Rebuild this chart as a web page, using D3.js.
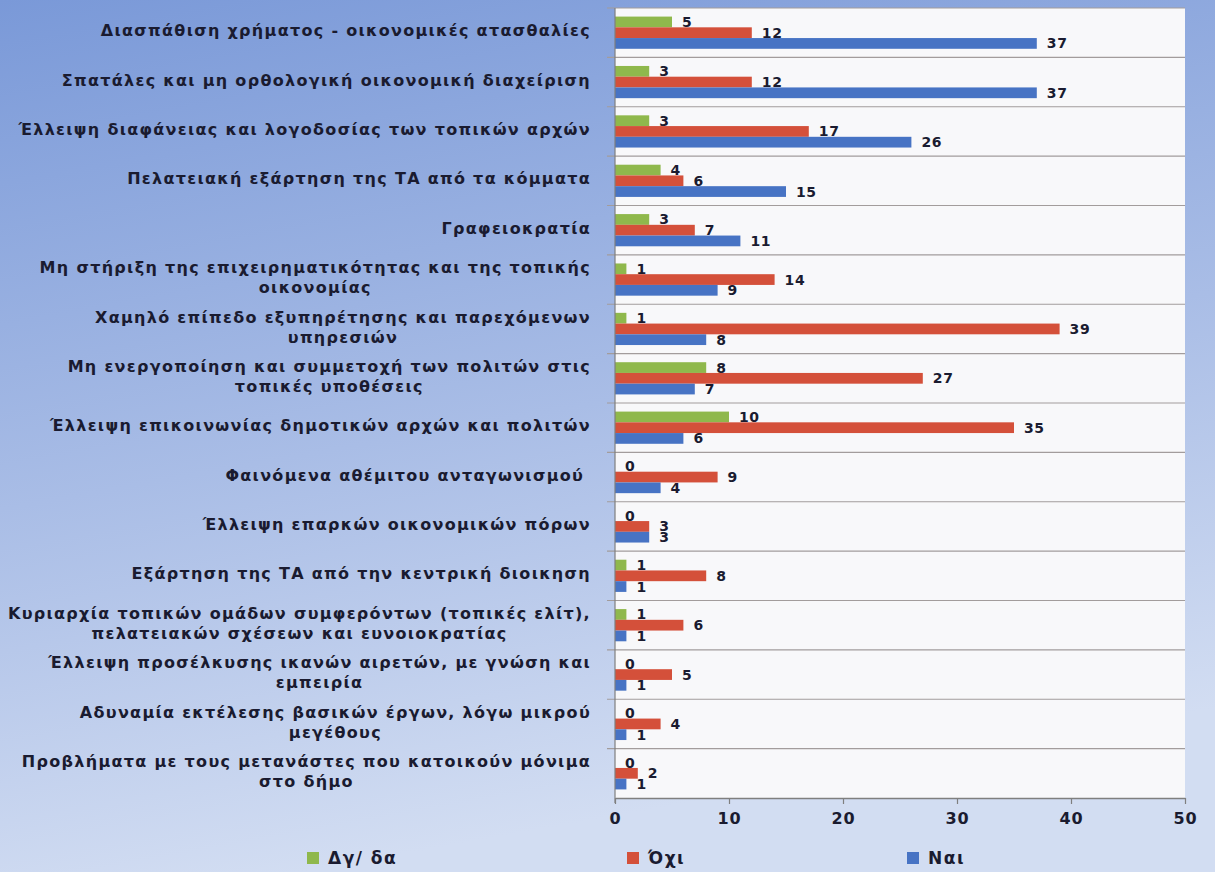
<!DOCTYPE html>
<html>
<head>
<meta charset="utf-8">
<script src="https://cdn.jsdelivr.net/npm/d3@7"></script>
<style>
  body { margin: 0; padding: 0; overflow: hidden; }
  svg { display: block; }
  text { font-family: "DejaVu Sans", Verdana, sans-serif; fill: #1a1b30; }
</style>
</head>
<body>
<svg width="1215" height="872"></svg>
<script>
// categories top to bottom, "|" marks a line break
var categories = [
    'Διασπάθιση χρήματος - οικονομικές ατασθαλίες',
    'Σπατάλες και μη ορθολογική οικονομική διαχείριση',
    'Έλλειψη διαφάνειας και λογοδοσίας των τοπικών αρχών',
    'Πελατειακή εξάρτηση της ΤΑ από τα κόμματα',
    'Γραφειοκρατία',
    'Μη στήριξη της επιχειρηματικότητας και της τοπικής|οικονομίας',
    'Χαμηλό επίπεδο εξυπηρέτησης και παρεχόμενων|υπηρεσιών',
    'Μη ενεργοποίηση και συμμετοχή των πολιτών στις|τοπικές υποθέσεις',
    'Έλλειψη επικοινωνίας δημοτικών αρχών και πολιτών',
    'Φαινόμενα αθέμιτου ανταγωνισμού ',
    'Έλλειψη επαρκών οικονομικών πόρων',
    'Εξάρτηση της ΤΑ από την κεντρική διοικηση',
    'Κυριαρχία τοπικών ομάδων συμφερόντων (τοπικές ελίτ),|πελατειακών σχέσεων και ευνοιοκρατίας',
    'Έλλειψη προσέλκυσης ικανών αιρετών, με γνώση και|εμπειρία',
    'Αδυναμία εκτέλεσης βασικών έργων, λόγω μικρού|μεγέθους',
    'Προβλήματα με τους μετανάστες που κατοικούν μόνιμα|στο δήμο'
];

var seriesNames = ['Δγ/ δα', 'Όχι', 'Ναι'];
var seriesColors = ['#8fb84c', '#d4503a', '#4773c4'];

var dgda = [5, 3, 3, 4, 3, 1, 1, 8, 10, 0, 0, 1, 1, 0, 0, 0];
var oxi  = [12, 12, 17, 6, 7, 14, 39, 27, 35, 9, 3, 8, 6, 5, 4, 2];
var nai  = [37, 37, 26, 15, 11, 9, 8, 7, 6, 4, 3, 1, 1, 1, 1, 1];

var xTicks = [0, 10, 20, 30, 40, 50];

var seriesValues = [dgda, oxi, nai];

var svg = d3.select('svg');
var W = 1215, H = 872;
var plot = { left: 615, right: 1185, top: 8, bottom: 798 };

// background gradient
var defs = svg.append('defs');
var grad = defs.append('linearGradient')
    .attr('id', 'bg').attr('x1', '0').attr('y1', '0').attr('x2', '0.25').attr('y2', '1');
grad.append('stop').attr('offset', '0').attr('stop-color', '#7a99d8');
grad.append('stop').attr('offset', '0.55').attr('stop-color', '#a9bde6');
grad.append('stop').attr('offset', '1').attr('stop-color', '#d2ddf2');

svg.append('rect').attr('width', W).attr('height', H).attr('fill', 'url(#bg)');

var xScale = d3.scaleLinear()
    .domain([0, 50])
    .range([plot.left, plot.right]);

var yScale = d3.scaleBand()
    .domain(d3.range(categories.length))
    .range([plot.top, plot.bottom]);

var inner = d3.scaleBand()
    .domain(d3.range(seriesNames.length))
    .range([0, yScale.bandwidth()])
    .paddingOuter(0.8);

// plot area
svg.append('rect')
    .attr('x', plot.left).attr('y', plot.top)
    .attr('width', plot.right - plot.left).attr('height', plot.bottom - plot.top)
    .attr('fill', '#f8f8fa');

// gridlines at band boundaries
var bounds = d3.range(categories.length).map(function(i) { return yScale(i); });
svg.append('g').selectAll('line')
    .data(bounds)
    .enter().append('line')
    .attr('x1', plot.left - 8).attr('x2', plot.right)
    .attr('y1', function(d) { return d; }).attr('y2', function(d) { return d; })
    .attr('stroke', '#a29c9c').attr('stroke-width', 1.2);

// bars
var groups = svg.append('g').selectAll('g')
    .data(categories)
    .enter().append('g')
    .attr('transform', function(d, i) { return 'translate(0,' + yScale(i) + ')'; });

groups.each(function(c, i) {
    var g = d3.select(this);
    seriesValues.forEach(function(vals, s) {
        g.append('rect')
            .attr('x', xScale(0))
            .attr('y', inner(s))
            .attr('width', xScale(vals[i]) - xScale(0))
            .attr('height', inner.bandwidth())
            .attr('fill', seriesColors[s]);
        g.append('text')
            .attr('x', xScale(vals[i]) + 10)
            .attr('y', inner(s) + inner.bandwidth() / 2)
            .attr('dy', '0.36em')
            .attr('font-size', 14)
            .attr('font-weight', 'bold')
            .attr('letter-spacing', 0.6)
            .text(vals[i]);
    });
});

// left axis line
svg.append('line')
    .attr('x1', plot.left).attr('x2', plot.left)
    .attr('y1', plot.top).attr('y2', plot.bottom + 5)
    .attr('stroke', '#7f7f7f').attr('stroke-width', 1.2);

// bottom axis
var xAxis = svg.append('g')
    .attr('transform', 'translate(0,' + plot.bottom + ')')
    .call(d3.axisBottom(xScale).tickValues(xTicks).tickSize(6).tickPadding(9).tickSizeOuter(0));
xAxis.select('.domain').attr('stroke', '#7f7f7f').attr('stroke-width', 1.4);
xAxis.selectAll('.tick line').attr('stroke', '#7f7f7f').attr('stroke-width', 1.2);
xAxis.selectAll('.tick text')
    .attr('font-size', 16).attr('font-weight', 'bold')
    .attr('letter-spacing', 1)
    .style('font-family', '"DejaVu Sans", Verdana, sans-serif')
    .attr('fill', '#1a1b30');

// category labels, wrapped block centred and right-aligned at x=590
var labelRight = 591;
var lineH = 20;
var labels = svg.append('g');
categories.forEach(function(c, i) {
    var lines = c.split('|');
    var t = labels.append('text')
        .attr('font-size', 16)
        .attr('font-weight', 'bold')
        .attr('letter-spacing', 1.3)
        .attr('text-anchor', 'middle')
        .style('white-space', 'pre');
    var cy = yScale(i) + yScale.bandwidth() / 2 - 2;
    var y0 = cy - (lines.length - 1) * lineH / 2;
    var spans = lines.map(function(l, k) {
        return t.append('tspan').attr('y', y0 + k * lineH).attr('dy', '0.35em').text(l);
    });
    var maxW = d3.max(spans, function(s) { return s.node().getComputedTextLength(); });
    spans.forEach(function(s) { s.attr('x', labelRight - maxW / 2); });
});

// legend
var legendX = [307, 627, 907];
var legend = svg.append('g');
seriesNames.forEach(function(n, s) {
    legend.append('rect')
        .attr('x', legendX[s]).attr('y', 852)
        .attr('width', 12).attr('height', 12)
        .attr('fill', seriesColors[s]);
    legend.append('text')
        .attr('x', legendX[s] + 21).attr('y', 858)
        .attr('dy', '0.36em')
        .attr('font-size', 17).attr('font-weight', 'bold')
        .attr('letter-spacing', 1.5)
        .text(n);
});
</script>
</body>
</html>
